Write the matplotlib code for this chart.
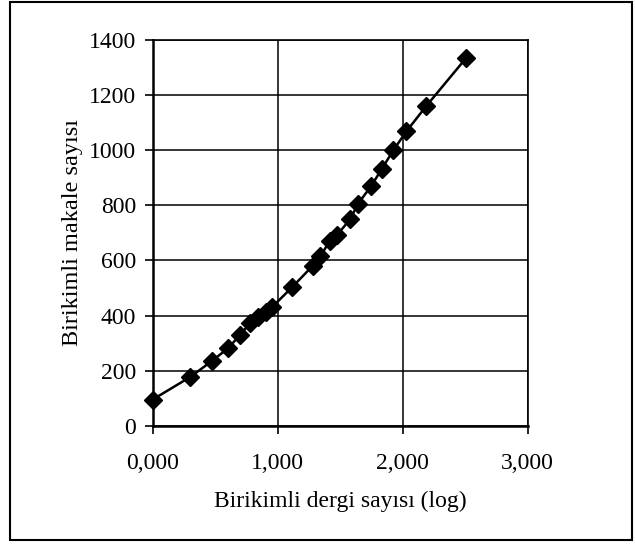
import matplotlib
matplotlib.use("Agg")
import matplotlib.pyplot as plt
from matplotlib.patches import Rectangle

# cumulative journals (log10) and cumulative articles
log_dergi = [0.000, 0.301, 0.477, 0.602, 0.699, 0.778, 0.845, 0.903, 0.954,
             1.114, 1.279, 1.342, 1.415, 1.477, 1.580, 1.643, 1.748, 1.833,
             1.924, 2.029, 2.188, 2.508]
makale = [95, 177, 236, 281, 329, 372, 393, 412, 430,
          502, 580, 616, 669, 693, 750, 806, 870, 932,
          999, 1068, 1160, 1335]

x_ticks = [0, 1, 2, 3]
x_tick_labels = ["0,000", "1,000", "2,000", "3,000"]
y_ticks = [0, 200, 400, 600, 800, 1000, 1200, 1400]

xlabel = "Birikimli dergi sayısı (log)"
ylabel = "Birikimli makale sayısı"

plt.rcParams['font.family'] = ['Liberation Serif', 'DejaVu Serif']

W, H = 635, 549
fig = plt.figure(figsize=(W / 100, H / 100), dpi=100)
ax = fig.add_axes([152.7 / W, 1 - 425.7 / H, (527.7 - 152.7) / W, (425.7 - 40) / H])

ax.plot(log_dergi, makale, color='black', lw=1.8, marker='D', ms=9,
        markerfacecolor='black', markeredgecolor='black', zorder=3, clip_on=False)

ax.set_xlim(0, 3)
ax.set_ylim(0, 1400)
ax.set_xticks(x_ticks)
ax.set_xticklabels(x_tick_labels)
ax.set_yticks(y_ticks)
ax.grid(True, color='black', lw=1.1)
ax.set_axisbelow(True)

for side in ['left', 'bottom']:
    ax.spines[side].set_linewidth(1.8)
for side in ['top', 'right']:
    ax.spines[side].set_linewidth(1.2)

ax.tick_params(axis='both', direction='out', length=6, width=1.2, labelsize=17, color='black')
ax.tick_params(axis='x', pad=14)
ax.tick_params(axis='y', pad=6)

ax.set_xlabel(xlabel, fontsize=17, labelpad=12)
ax.set_ylabel(ylabel, fontsize=17.5, labelpad=4)

# outer frame around the chart
fig.patches.append(Rectangle((10 / W, 1 - 540 / H), (632 - 10) / W, (540 - 2) / H,
                             transform=fig.transFigure, fill=False,
                             edgecolor='black', lw=1.5))

fig.savefig("out.png", dpi=100)
